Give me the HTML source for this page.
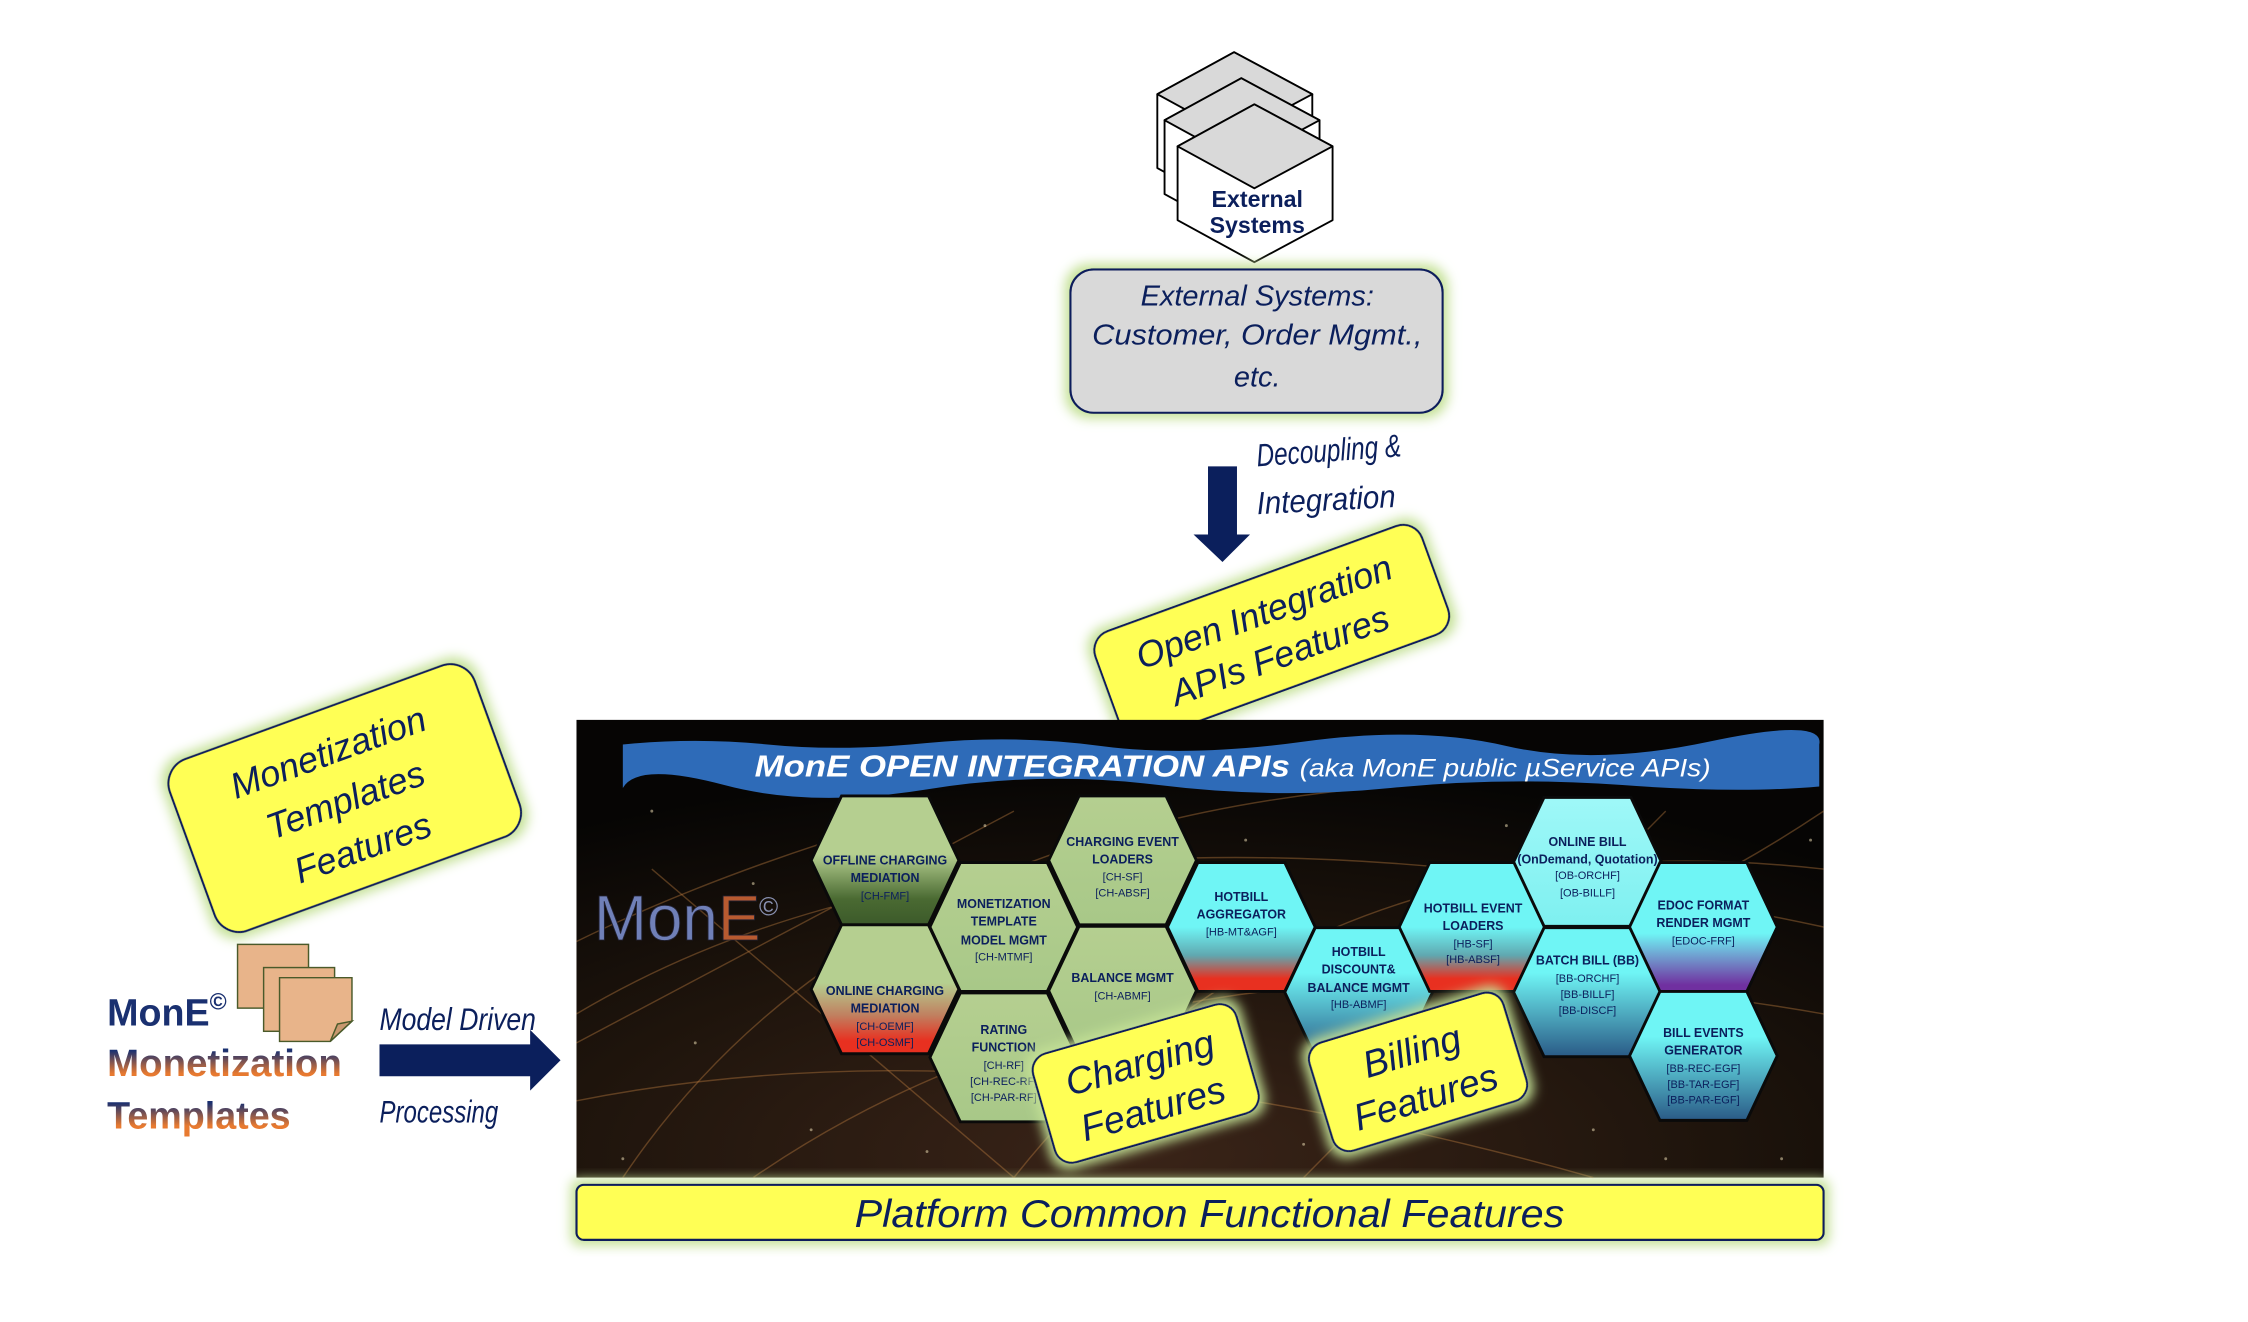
<!DOCTYPE html>
<html><head><meta charset="utf-8"><style>
html,body{margin:0;padding:0;background:#fff;}
svg{display:block;}
text{font-family:"Liberation Sans",sans-serif;}
.hw{font-family:"Liberation Sans",sans-serif;font-style:italic;fill:#0b1f5c;}
.hx{font-family:"Liberation Sans",sans-serif;font-weight:bold;font-size:8.6px;fill:#0b1f5c;text-anchor:middle;}
.hs{font-family:"Liberation Sans",sans-serif;font-size:7.6px;fill:#0b1f5c;text-anchor:middle;}
</style></head><body>
<svg width="2248" height="1322" viewBox="0 0 1552 912.7" xmlns="http://www.w3.org/2000/svg">
<defs>
<filter id="g2" x="-20%" y="-30%" width="140%" height="160%"><feMorphology in="SourceAlpha" operator="dilate" radius="3"/><feGaussianBlur stdDeviation="4"/><feColorMatrix type="matrix" values="0 0 0 0 0.55 0 0 0 0 0.75 0 0 0 0 0.3 0 0 0 1 0"/><feMerge><feMergeNode/><feMergeNode in="SourceGraphic"/></feMerge></filter>
<radialGradient id="bg" cx="0.45" cy="0.95" r="0.85"><stop offset="0" stop-color="#3a2418"/><stop offset="0.55" stop-color="#1e140c"/><stop offset="1" stop-color="#060504"/></radialGradient>
<linearGradient id="gG" x1="0" y1="0" x2="0" y2="1"><stop offset="0.45" stop-color="#b5cf90"/><stop offset="0.8" stop-color="#4a6a32"/><stop offset="1" stop-color="#3c5a2a"/></linearGradient>
<linearGradient id="gR" x1="0" y1="0" x2="0" y2="1"><stop offset="0.45" stop-color="#b5cf90"/><stop offset="0.7" stop-color="#c08060"/><stop offset="0.9" stop-color="#e83020"/></linearGradient>
<linearGradient id="gP" x1="0" y1="0" x2="0" y2="1"><stop offset="0" stop-color="#b5cf90"/><stop offset="1" stop-color="#a8c888"/></linearGradient>
<linearGradient id="cR" x1="0" y1="0" x2="0" y2="1"><stop offset="0.5" stop-color="#6ff5f5"/><stop offset="0.72" stop-color="#60a8b0"/><stop offset="0.9" stop-color="#e83020"/></linearGradient>
<linearGradient id="cB" x1="0" y1="0" x2="0" y2="1"><stop offset="0.35" stop-color="#6ff5f5"/><stop offset="1" stop-color="#2a5a86"/></linearGradient>
<linearGradient id="cV" x1="0" y1="0" x2="0" y2="1"><stop offset="0.55" stop-color="#6ff5f5"/><stop offset="0.95" stop-color="#7030a0"/></linearGradient>
<linearGradient id="cL" x1="0" y1="0" x2="0" y2="1"><stop offset="0" stop-color="#9ff8f8"/><stop offset="1" stop-color="#7ef0f0"/></linearGradient>
<linearGradient id="mt" x1="0" y1="0" x2="0" y2="1"><stop offset="0.2" stop-color="#1a3070"/><stop offset="0.75" stop-color="#e87a30"/></linearGradient>
</defs>

<!-- cubes -->
<g stroke="#000" stroke-width="1.3" stroke-linejoin="round">
<g transform="translate(-14,-36)"><polygon points="866,72 920,101 920,152 866,181 813,152 813,101" fill="#fff"/><polygon points="866,72 920,101 866,130 813,101" fill="#d9d9d9"/></g>
<g transform="translate(-9,-18)"><polygon points="866,72 920,101 920,152 866,181 813,152 813,101" fill="#fff"/><polygon points="866,72 920,101 866,130 813,101" fill="#d9d9d9"/></g>
<polygon points="866,72 920,101 920,152 866,181 813,152 813,101" fill="#fff"/><polygon points="866,72 920,101 866,130 813,101" fill="#d9d9d9"/>
</g>
<text x="868" y="143" font-size="16" font-weight="bold" fill="#0b1f5c" text-anchor="middle">External</text>
<text x="868" y="161" font-size="16" font-weight="bold" fill="#0b1f5c" text-anchor="middle">Systems</text>

<!-- external box -->
<rect x="739" y="186" width="257" height="99" rx="16" fill="#d9d9d9" stroke="#0b1f5c" stroke-width="1.5" filter="url(#g2)"/>
<text class="hw" x="868" y="211" font-size="20" text-anchor="middle">External Systems:</text>
<text class="hw" x="868" y="238" font-size="20" text-anchor="middle" textLength="228" lengthAdjust="spacingAndGlyphs">Customer, Order Mgmt.,</text>
<text class="hw" x="868" y="267" font-size="20" text-anchor="middle">etc.</text>

<!-- down arrow -->
<polygon points="834,322 854,322 854,369 863,369 844,388 824,369 834,369" fill="#0b1f5c"/>
<text class="hw" x="868" y="322" font-size="22" textLength="100" lengthAdjust="spacingAndGlyphs" transform="rotate(-4 868 322)">Decoupling &amp;</text>
<text class="hw" x="868" y="355" font-size="22" textLength="96" lengthAdjust="spacingAndGlyphs" transform="rotate(-3 868 355)">Integration</text>

<!-- open integration box -->
<g transform="rotate(-20 878 437)">
<rect x="758" y="397" width="240" height="80" rx="14" fill="#ffff55" stroke="#0b1f5c" stroke-width="1.5" filter="url(#g2)"/>
<text class="hw" x="878" y="430" font-size="25" text-anchor="middle" font-style="normal">Open Integration</text>
<text class="hw" x="878" y="462" font-size="25" text-anchor="middle" font-style="normal">APIs Features</text>
</g>

<!-- monetization templates features -->
<g transform="rotate(-20 238 551)">
<rect x="126" y="488" width="224" height="126" rx="18" fill="#ffff55" stroke="#0b1f5c" stroke-width="1.5" filter="url(#g2)"/>
<text class="hw" x="238" y="526" font-size="25" text-anchor="middle" font-style="normal">Monetization</text>
<text class="hw" x="238" y="561" font-size="25" text-anchor="middle" font-style="normal">Templates</text>
<text class="hw" x="238" y="596" font-size="25" text-anchor="middle" font-style="normal">Features</text>
</g>

<!-- dark panel -->
<rect x="398" y="497" width="861" height="316" fill="url(#bg)"/>
<g stroke="#c08040" stroke-opacity="0.4" stroke-width="1" fill="none">
<path d="M398,700 Q700,520 1259,640"/><path d="M430,813 Q600,560 1000,540"/><path d="M520,813 Q800,620 1259,700"/><path d="M398,760 Q700,700 1100,813"/><path d="M600,560 Q900,800 1259,560"/><path d="M450,600 L700,813"/><path d="M1150,560 L900,813"/><path d="M398,650 Q500,600 640,560"/><path d="M700,813 Q900,560 1259,600"/><path d="M398,720 Q550,640 700,560"/>
</g>
<g fill="#e8d8b0" opacity="0.55">
<circle cx="450" cy="560" r="1"/><circle cx="520" cy="610" r="1"/><circle cx="480" cy="720" r="1"/><circle cx="560" cy="780" r="1"/><circle cx="900" cy="790" r="1"/><circle cx="1100" cy="780" r="1"/><circle cx="1230" cy="800" r="1"/><circle cx="1250" cy="580" r="1"/><circle cx="1040" cy="570" r="1"/><circle cx="680" cy="570" r="1"/><circle cx="430" cy="800" r="1"/><circle cx="860" cy="580" r="1"/><circle cx="1150" cy="800" r="1"/><circle cx="640" cy="795" r="1"/>
</g>
<text x="410" y="649" font-family="Liberation Serif,serif" font-size="44" fill="#7080b8" stroke="#223" stroke-width="0.6">Mon<tspan fill="#b85a30">E</tspan></text>
<text x="524" y="632" font-size="18" fill="#8890b0">©</text>

<!-- banner -->
<path d="M430,514 Q480,509 530,514 T640,513 T760,515 T900,512 T1040,515 T1180,512 T1256,514 L1256,543 Q1200,548 1120,542 T960,544 T800,542 T640,545 T500,542 T430,544 Z" fill="#2e6bb8"/>
<text x="521" y="536" font-size="21" font-weight="bold" font-style="italic" fill="#fff" textLength="660" lengthAdjust="spacingAndGlyphs">MonE OPEN INTEGRATION APIs <tspan font-size="17" font-weight="normal">(aka MonE public µService APIs)</tspan></text>

<!-- hexes -->
<g stroke="#0a0a0a" stroke-width="2">
<polygon transform="translate(611,594)" points="-51,0 -30,-44.5 30,-44.5 51,0 30,44.5 -30,44.5" fill="url(#gG)"/>
<polygon transform="translate(611,683)" points="-51,0 -30,-44.5 30,-44.5 51,0 30,44.5 -30,44.5" fill="url(#gR)"/>
<polygon transform="translate(693,640)" points="-51,0 -30,-44.5 30,-44.5 51,0 30,44.5 -30,44.5" fill="url(#gP)"/>
<polygon transform="translate(693,730)" points="-51,0 -30,-44.5 30,-44.5 51,0 30,44.5 -30,44.5" fill="url(#gP)"/>
<polygon transform="translate(775,594)" points="-51,0 -30,-44.5 30,-44.5 51,0 30,44.5 -30,44.5" fill="url(#gP)"/>
<polygon transform="translate(775,684)" points="-51,0 -30,-44.5 30,-44.5 51,0 30,44.5 -30,44.5" fill="url(#gP)"/>
<polygon transform="translate(857,640)" points="-51,0 -30,-44.5 30,-44.5 51,0 30,44.5 -30,44.5" fill="url(#cR)"/>
<polygon transform="translate(938,685)" points="-51,0 -30,-44.5 30,-44.5 51,0 30,44.5 -30,44.5" fill="url(#cB)"/>
<polygon transform="translate(1017,640)" points="-51,0 -30,-44.5 30,-44.5 51,0 30,44.5 -30,44.5" fill="url(#cR)"/>
<polygon transform="translate(1096,595)" points="-51,0 -30,-44.5 30,-44.5 51,0 30,44.5 -30,44.5" fill="url(#cL)"/>
<polygon transform="translate(1096,685)" points="-51,0 -30,-44.5 30,-44.5 51,0 30,44.5 -30,44.5" fill="url(#cB)"/>
<polygon transform="translate(1176,640)" points="-51,0 -30,-44.5 30,-44.5 51,0 30,44.5 -30,44.5" fill="url(#cV)"/>
<polygon transform="translate(1176,729)" points="-51,0 -30,-44.5 30,-44.5 51,0 30,44.5 -30,44.5" fill="url(#cB)"/>
</g>
<text class="hx" x="611" y="597">OFFLINE CHARGING</text><text class="hx" x="611" y="609">MEDIATION</text><text class="hs" x="611" y="621">[CH-FMF]</text>
<text class="hx" x="611" y="687">ONLINE CHARGING</text><text class="hx" x="611" y="699">MEDIATION</text><text class="hs" x="611" y="711">[CH-OEMF]</text><text class="hs" x="611" y="722">[CH-OSMF]</text>
<text class="hx" x="693" y="627">MONETIZATION</text><text class="hx" x="693" y="639">TEMPLATE</text><text class="hx" x="693" y="652">MODEL MGMT</text><text class="hs" x="693" y="663">[CH-MTMF]</text>
<text class="hx" x="693" y="714">RATING</text><text class="hx" x="693" y="726">FUNCTION</text><text class="hs" x="693" y="738">[CH-RF]</text><text class="hs" x="693" y="749">[CH-REC-RF]</text><text class="hs" x="693" y="760">[CH-PAR-RF]</text>
<text class="hx" x="775" y="584">CHARGING EVENT</text><text class="hx" x="775" y="596">LOADERS</text><text class="hs" x="775" y="608">[CH-SF]</text><text class="hs" x="775" y="619">[CH-ABSF]</text>
<text class="hx" x="775" y="678">BALANCE MGMT</text><text class="hs" x="775" y="690">[CH-ABMF]</text>
<text class="hx" x="857" y="622">HOTBILL</text><text class="hx" x="857" y="634">AGGREGATOR</text><text class="hs" x="857" y="646">[HB-MT&amp;AGF]</text>
<text class="hx" x="938" y="660">HOTBILL</text><text class="hx" x="938" y="672">DISCOUNT&amp;</text><text class="hx" x="938" y="685">BALANCE MGMT</text><text class="hs" x="938" y="696">[HB-ABMF]</text>
<text class="hx" x="1017" y="630">HOTBILL EVENT</text><text class="hx" x="1017" y="642">LOADERS</text><text class="hs" x="1017" y="654">[HB-SF]</text><text class="hs" x="1017" y="665">[HB-ABSF]</text>
<text class="hx" x="1096" y="584">ONLINE BILL</text><text class="hx" x="1096" y="596" font-size="8">(OnDemand, Quotation)</text><text class="hs" x="1096" y="607">[OB-ORCHF]</text><text class="hs" x="1096" y="619">[OB-BILLF]</text>
<text class="hx" x="1096" y="666">BATCH BILL (BB)</text><text class="hs" x="1096" y="678">[BB-ORCHF]</text><text class="hs" x="1096" y="689">[BB-BILLF]</text><text class="hs" x="1096" y="700">[BB-DISCF]</text>
<text class="hx" x="1176" y="628">EDOC FORMAT</text><text class="hx" x="1176" y="640">RENDER MGMT</text><text class="hs" x="1176" y="652">[EDOC-FRF]</text>
<text class="hx" x="1176" y="716">BILL EVENTS</text><text class="hx" x="1176" y="728">GENERATOR</text><text class="hs" x="1176" y="740">[BB-REC-EGF]</text><text class="hs" x="1176" y="751">[BB-TAR-EGF]</text><text class="hs" x="1176" y="762">[BB-PAR-EGF]</text>

<!-- charging / billing features -->
<g transform="rotate(-16 791 748)">
<rect x="718" y="709" width="146" height="78" rx="12" fill="#ffff55" stroke="#0b1f5c" stroke-width="1.5" filter="url(#g2)"/>
<text class="hw" x="791" y="742" font-size="26" text-anchor="middle" font-style="normal">Charging</text>
<text class="hw" x="791" y="775" font-size="26" text-anchor="middle" font-style="normal">Features</text>
</g>
<g transform="rotate(-17 979 740)">
<rect x="909" y="701" width="140" height="78" rx="12" fill="#ffff55" stroke="#0b1f5c" stroke-width="1.5" filter="url(#g2)"/>
<text class="hw" x="979" y="734" font-size="26" text-anchor="middle" font-style="normal">Billing</text>
<text class="hw" x="979" y="767" font-size="26" text-anchor="middle" font-style="normal">Features</text>
</g>

<!-- platform bar -->
<rect x="398" y="818" width="861" height="38" rx="5" fill="#ffff55" stroke="#0b1f5c" stroke-width="1.5" filter="url(#g2)"/>
<text class="hw" x="835" y="847" font-size="27" text-anchor="middle" textLength="490" lengthAdjust="spacingAndGlyphs">Platform Common Functional Features</text>

<!-- left: papers -->
<g stroke="#4a5a2a" stroke-width="1">
<rect x="164" y="652" width="49" height="44" fill="#e8b48a"/>
<rect x="182" y="668" width="49" height="44" fill="#e8b48a"/>
<path d="M193,675 h50 v30 l-15,14 h-35 z" fill="#e8b48a"/>
<path d="M243,705 l-10,2 l-5,12 z" fill="#c89870"/>
</g>
<text x="74" y="708" font-size="26" font-weight="bold" fill="#1a3070">Mon<tspan fill="#1a3070">E</tspan><tspan font-size="16" dy="-11">©</tspan></text>
<text x="74" y="743" font-size="26" font-weight="bold" fill="url(#mt)" textLength="162" lengthAdjust="spacingAndGlyphs">Monetization</text>
<text x="74" y="779" font-size="26" font-weight="bold" fill="url(#mt)">Templates</text>
<text class="hw" x="262" y="711" font-size="22" textLength="108" lengthAdjust="spacingAndGlyphs">Model Driven</text>
<polygon points="262,721 366,721 366,711 387,732 366,753 366,743 262,743" fill="#0b1f5c"/>
<text class="hw" x="262" y="775" font-size="22" textLength="82" lengthAdjust="spacingAndGlyphs">Processing</text>
</svg>
</body></html>
